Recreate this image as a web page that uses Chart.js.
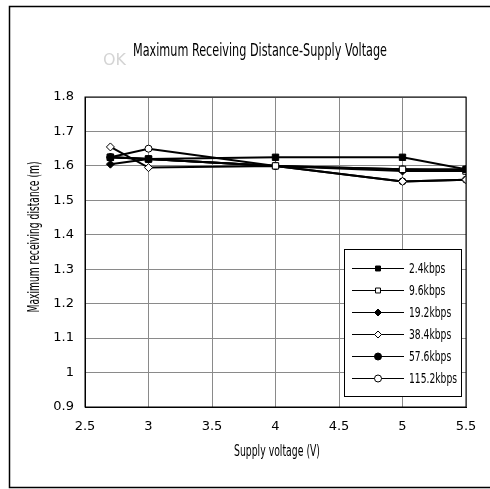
<!DOCTYPE html>
<html>
<head>
<meta charset="utf-8">
<script src="https://cdn.jsdelivr.net/npm/chart.js@4.4.1/dist/chart.umd.min.js"></script>
<style>
  html, body { margin: 0; padding: 0; background: #fff; }
  #wrap { width: 490px; height: 489px; }
</style>
</head>
<body>
<div id="wrap"><canvas id="dist" width="490" height="489"></canvas></div>
<script>
const FONT = "'DejaVu Sans', sans-serif";

// supply voltage (V)
const voltages = [2.7, 3, 4, 5, 5.5];

// max receiving distance (m) per baud rate
const seriesNames = ['2.4kbps', '9.6kbps', '19.2kbps', '38.4kbps', '57.6kbps', '115.2kbps'];
const d2400 = [1.625, 1.62, 1.625, 1.625, 1.59];
const d9600 = [1.625, 1.62, 1.60, 1.59, 1.585];
const d19200 = [1.605, 1.62, 1.60, 1.585, 1.585];
const d38400 = [1.655, 1.595, 1.60, 1.555, 1.56];
const d57600 = [1.625, 1.62, 1.60, 1.59, 1.59];
const d115200 = [1.625, 1.65, 1.60, 1.555, 1.56];

const chartTitle = 'Maximum Receiving Distance-Supply Voltage';
const xTitle = 'Supply voltage (V)';
const yTitle = 'Maximum receiving distance (m)';

const markers = [
    { style: 'rect', fill: true, r: 4.5 },
    { style: 'rect', fill: false, r: 4.5 },
    { style: 'rectRot', fill: true, r: 4 },
    { style: 'rectRot', fill: false, r: 4 },
    { style: 'circle', fill: true, r: 3.5 },
    { style: 'circle', fill: false, r: 3.5 }
];

const allValues = [d2400, d9600, d19200, d38400, d57600, d115200];

const datasets = allValues.map((vals, i) => ({
    label: seriesNames[i],
    data: vals.map((v, j) => ({ x: voltages[j], y: v })),
    borderColor: '#000',
    borderWidth: 2,
    pointStyle: markers[i].style,
    pointRadius: markers[i].r,
    pointBackgroundColor: markers[i].fill ? '#000' : '#fff',
    pointBorderColor: '#000',
    pointBorderWidth: 1,
    tension: 0
}));

// narrow text: draw at a size, squeeze to a width
function squeezed(ctx, text, x, y, size, width, align) {
    ctx.font = size + 'px ' + FONT;
    const w = ctx.measureText(text).width;
    const sx = width / w;
    ctx.save();
    ctx.translate(x, y);
    ctx.scale(sx, 1);
    ctx.textAlign = align || 'center';
    ctx.textBaseline = 'middle';
    ctx.fillText(text, 0, 0);
    ctx.restore();
    return sx;
}

const framePlugin = {
    id: 'frame',
    beforeDraw(chart) {
        const ctx = chart.ctx;
        ctx.save();
        ctx.fillStyle = '#fff';
        ctx.fillRect(0, 0, chart.width, chart.height);
        ctx.strokeStyle = '#000';
        ctx.lineWidth = 1.5;
        ctx.strokeRect(9.5, 6.5, 490, 481);
        ctx.fillStyle = '#000';
        squeezed(ctx, chartTitle, 260, 51, 18, 254);
        squeezed(ctx, xTitle, 277, 452, 15, 86);
        ctx.save();
        ctx.translate(35, 237);
        ctx.rotate(-Math.PI / 2);
        squeezed(ctx, yTitle, 0, 0, 15, 151);
        ctx.restore();
        ctx.fillStyle = '#d4d4d4';
        squeezed(ctx, 'OK', 114.5, 61, 16, 23);
        ctx.restore();
    },
    afterDatasetsDraw(chart) {
        const ctx = chart.ctx;
        const a = chart.chartArea;
        ctx.save();
        ctx.strokeStyle = '#000';
        ctx.lineWidth = 1;
        ctx.strokeRect(a.left, a.top, a.right - a.left, a.bottom - a.top);
        // legend box
        const bx = 344.5, by = 249.5, bw = 117, bh = 147;
        ctx.fillStyle = '#fff';
        ctx.fillRect(bx, by, bw, bh);
        ctx.strokeRect(bx, by, bw, bh);
        ctx.font = '14px ' + FONT;
        const sx = 48 / ctx.measureText(seriesNames[5]).width;
        chart.data.datasets.forEach((ds, i) => {
            const y = 268.5 + i * 22;
            ctx.strokeStyle = '#000';
            ctx.lineWidth = 1;
            ctx.beginPath();
            ctx.moveTo(352, y);
            ctx.lineTo(404, y);
            ctx.stroke();
            ctx.fillStyle = ds.pointBackgroundColor;
            Chart.helpers.drawPoint(ctx, { pointStyle: ds.pointStyle, radius: 3.5, borderWidth: 1 }, 378, y);
            ctx.fillStyle = '#000';
            ctx.font = '14px ' + FONT;
            const w = ctx.measureText(ds.label).width * sx;
            squeezed(ctx, ds.label, 409, y + 1, 14, w, 'left');
        });
        ctx.restore();
    }
};

const tickFont = { family: FONT, size: 13 };

new Chart(document.getElementById('dist'), {
    type: 'line',
    data: { datasets: datasets },
    options: {
        responsive: false,
        animation: false,
        layout: { padding: { left: 0, right: 24, top: 97, bottom: 0 } },
        plugins: {
            legend: { display: false },
            tooltip: { enabled: false },
            title: { display: false }
        },
        scales: {
            x: {
                type: 'linear',
                min: 2.5,
                max: 5.5,
                afterFit: s => { s.height = 82; },
                ticks: {
                    stepSize: 0.5,
                    padding: 12,
                    color: '#000',
                    font: tickFont,
                    callback: v => String(Math.round(v * 10) / 10)
                },
                grid: { color: '#8a8a8a', lineWidth: 1, drawTicks: false },
                border: { color: '#000' }
            },
            y: {
                min: 0.9,
                max: 1.8,
                afterFit: s => { s.width = 85; },
                ticks: {
                    stepSize: 0.1,
                    padding: 11,
                    color: '#000',
                    font: tickFont,
                    callback: v => String(Math.round(v * 10) / 10)
                },
                grid: { color: '#8a8a8a', lineWidth: 1, drawTicks: false },
                border: { color: '#000' }
            }
        }
    },
    plugins: [framePlugin]
});
</script>
</body>
</html>
